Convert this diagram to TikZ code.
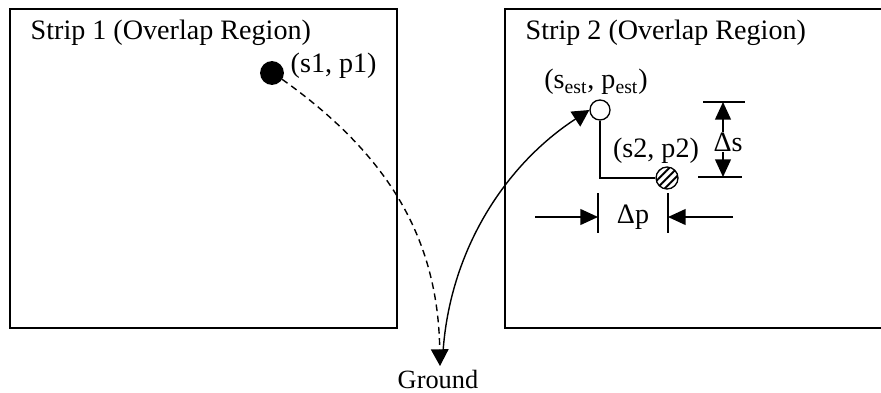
\documentclass[tikz,border=0pt]{standalone}
\usepackage{fontspec}
\setmainfont{Liberation Serif}
\usetikzlibrary{arrows.meta, patterns, patterns.meta, positioning}

\tikzset{
  stripbox/.style={draw, line width=0.75pt},
  lbl/.style={font=\fontsize{16}{19}\selectfont, inner sep=0pt},
  gpoint/.style={circle, draw, line width=0.75pt, minimum size=11.4pt, inner sep=0pt},
  bigtip/.style={-{Triangle[length=9.5pt,width=10pt]}},
  dimtip/.style={-{Triangle[length=10pt,width=9pt]}},
}

\begin{document}
\begin{tikzpicture}[x=0.02cm, y=-0.02cm, line width=0.8pt]
\useasboundingbox (0,0) rectangle (881,392);

% strips
\draw[stripbox] (10,9) rectangle (397,328);
\draw[stripbox] (505,9) rectangle (890,328);
\node[lbl, anchor=west] (title1) at (30,33) {Strip 1 (Overlap Region)};
\node[lbl, anchor=west] (title2) at (525,33) {Strip 2 (Overlap Region)};

% points and labels
\node[gpoint, fill=black, minimum size=12.8pt] (p1) at (272,73) {};
\node[gpoint, fill=white] (pest) at (600,110) {};
\node[gpoint, minimum size=12.5pt,
  pattern={Lines[angle=45,distance=3.2pt,line width=1.1pt]}] (p2) at (667,178) {};
\node[lbl, anchor=west] (p1lbl) at (290,66) {(s1, p1)};
\node[lbl] (pestlbl) at (596,82) {(s\textsubscript{est}, p\textsubscript{est})};
\node[lbl] (p2lbl) at (656,151) {(s2, p2)};
\node[lbl, font=\fontsize{15}{18}\selectfont] (ground) at (438,379) {Ground};

% to the ground and back
\coordinate (gtip) at (440,366);
\coordinate (gstart) at (443,352);
\draw[bigtip, dash pattern=on 3.8pt off 2.6pt] (p1.-32) .. controls (390,156) and (438,240) .. (gtip);
\draw[bigtip] (gstart) .. controls (450,250) and (505,165) .. (pest.west);
\draw (pest.south) |- (p2.west);

% offsets
\node[lbl] (ds) at (728,142) {Δs};
\coordinate (dstop) at (723,102);
\coordinate (dsbot) at (723,177);
\draw (703,102) -- (745,102);
\draw (698,177) -- (742,177);
\draw[dimtip] (ds.north -| dstop) -- (dstop);
\draw[dimtip] (ds.south -| dsbot) -- (dsbot);

\node[lbl] (dp) at (633,217) {Δp};
\draw (598,193) -- (598,233);
\draw (668,193) -- (668,233);
\draw[dimtip] (535,217) -- (598,217);
\draw[dimtip] (733,217) -- (668,217);
\end{tikzpicture}
\end{document}
